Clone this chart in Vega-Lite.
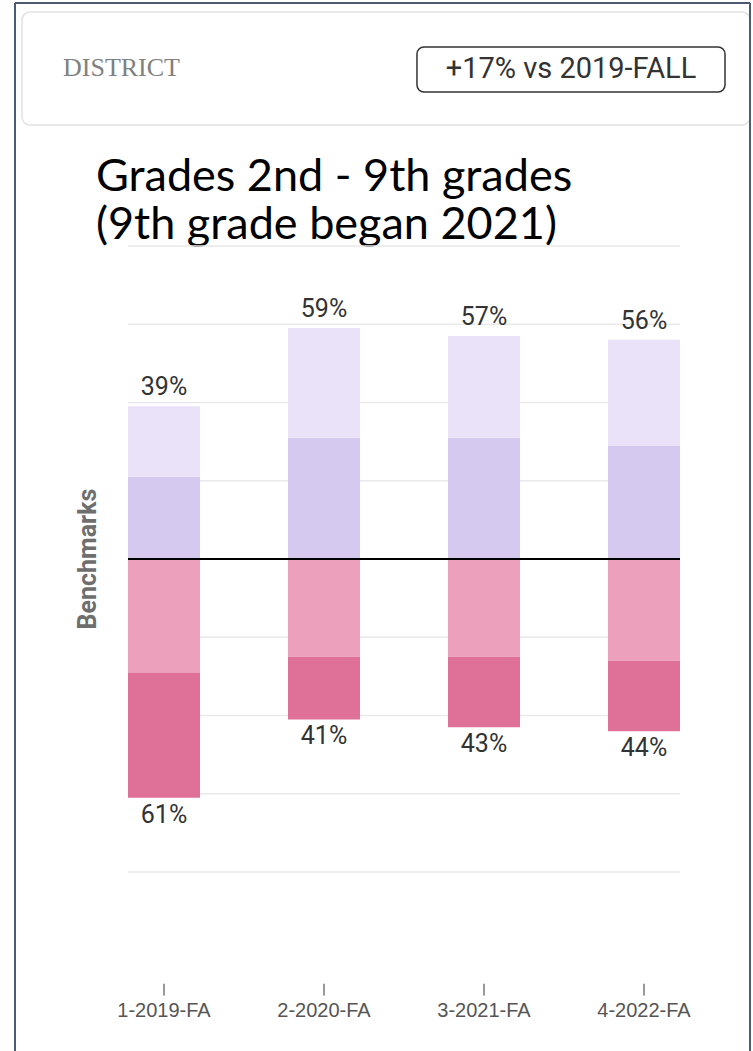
{
  "$schema": "https://vega.github.io/schema/vega-lite/v6.json",
  "width": 735,
  "height": 1048,
  "autosize": {"type": "none"},
  "padding": {"left": 15, "top": 3, "right": 3, "bottom": 0},
  "background": "white",
  "config": {
    "view": {"stroke": null},
    "axis": {"disable": true},
    "legend": {"disable": true}
  },
  "datasets": {
    "bars": [
      {"period": "1-2019-FA", "level": "Meets", "tier": 1, "value": 0.21},
      {"period": "1-2019-FA", "level": "Exceeds", "tier": 2, "value": 0.18},
      {"period": "1-2019-FA", "level": "Approaching", "tier": 1, "value": -0.29},
      {"period": "1-2019-FA", "level": "Below", "tier": 2, "value": -0.32},
      {"period": "2-2020-FA", "level": "Meets", "tier": 1, "value": 0.31},
      {"period": "2-2020-FA", "level": "Exceeds", "tier": 2, "value": 0.28},
      {"period": "2-2020-FA", "level": "Approaching", "tier": 1, "value": -0.25},
      {"period": "2-2020-FA", "level": "Below", "tier": 2, "value": -0.16},
      {"period": "3-2021-FA", "level": "Meets", "tier": 1, "value": 0.31},
      {"period": "3-2021-FA", "level": "Exceeds", "tier": 2, "value": 0.26},
      {"period": "3-2021-FA", "level": "Approaching", "tier": 1, "value": -0.25},
      {"period": "3-2021-FA", "level": "Below", "tier": 2, "value": -0.18},
      {"period": "4-2022-FA", "level": "Meets", "tier": 1, "value": 0.29},
      {"period": "4-2022-FA", "level": "Exceeds", "tier": 2, "value": 0.27},
      {"period": "4-2022-FA", "level": "Approaching", "tier": 1, "value": -0.26},
      {"period": "4-2022-FA", "level": "Below", "tier": 2, "value": -0.18}
    ],
    "totals": [
      {"period": "1-2019-FA", "total": 0.39, "label": "39%"},
      {"period": "1-2019-FA", "total": -0.61, "label": "61%"},
      {"period": "2-2020-FA", "total": 0.59, "label": "59%"},
      {"period": "2-2020-FA", "total": -0.41, "label": "41%"},
      {"period": "3-2021-FA", "total": 0.57, "label": "57%"},
      {"period": "3-2021-FA", "total": -0.43, "label": "43%"},
      {"period": "4-2022-FA", "total": 0.56, "label": "56%"},
      {"period": "4-2022-FA", "total": -0.44, "label": "44%"}
    ],
    "grid": [
      {"v": -0.8}, {"v": -0.6}, {"v": -0.4}, {"v": -0.2},
      {"v": 0.2}, {"v": 0.4}, {"v": 0.6}, {"v": 0.8}
    ],
    "header": [
      {"district": "DISTRICT", "change": "+17% vs 2019-FALL", "title": "Grades 2nd - 9th grades\n(9th grade began 2021)", "axisTitle": "Benchmarks"}
    ]
  },
  "layer": [
    {
      "data": {"name": "header"},
      "layer": [
        {
          "mark": {"type": "rect", "fill": "white", "stroke": "#e2e2e2", "strokeWidth": 1.5, "cornerRadius": 8},
          "encoding": {
            "x": {"datum": 0.95, "type": "quantitative", "scale": {"domain": [0, 100], "nice": false, "zero": false}},
            "x2": {"datum": 100},
            "y": {"datum": 1.3975, "type": "quantitative", "scale": {"domain": [-1.25703, 1.42054], "nice": false, "zero": false}},
            "y2": {"datum": 1.1088}
          }
        },
        {
          "mark": {"type": "text", "align": "left", "baseline": "middle", "font": "Liberation Serif", "fontSize": 26, "color": "#808080"},
          "encoding": {
            "x": {"datum": 6.53, "type": "quantitative"},
            "y": {"datum": 1.2545, "type": "quantitative"},
            "text": {"field": "district"}
          }
        },
        {
          "mark": {"type": "rect", "fill": "white", "stroke": "#333333", "strokeWidth": 1.5, "cornerRadius": 7},
          "encoding": {
            "x": {"datum": 54.69, "type": "quantitative"},
            "x2": {"datum": 96.6},
            "y": {"datum": 1.3081, "type": "quantitative"},
            "y2": {"datum": 1.1931}
          }
        },
        {
          "mark": {"type": "text", "align": "center", "baseline": "middle", "font": "Roboto", "fontSize": 29, "color": "#333333"},
          "encoding": {
            "x": {"datum": 75.65, "type": "quantitative"},
            "y": {"datum": 1.2519, "type": "quantitative"},
            "text": {"field": "change"}
          }
        },
        {
          "mark": {"type": "text", "align": "left", "baseline": "alphabetic", "font": "Lato", "fontSize": 45, "color": "#000000", "lineBreak": "\n", "lineHeight": 48},
          "encoding": {
            "x": {"datum": 11.02, "type": "quantitative"},
            "y": {"datum": 0.9402, "type": "quantitative"},
            "text": {"field": "title"}
          }
        },
        {
          "mark": {"type": "text", "align": "center", "baseline": "middle", "angle": 270, "font": "Roboto", "fontWeight": "bold", "fontSize": 25, "color": "#6e6e6e"},
          "encoding": {
            "x": {"datum": 9.93, "type": "quantitative"},
            "y": {"datum": 0.0, "type": "quantitative"},
            "text": {"field": "axisTitle"}
          }
        },
        {
          "data": {"name": "grid"},
          "mark": {"type": "rule", "color": "#e9e9e9", "strokeWidth": 1.5},
          "encoding": {
            "x": {"datum": 15.37, "type": "quantitative"},
            "x2": {"datum": 90.48},
            "y": {"field": "v", "type": "quantitative"}
          }
        }
      ]
    },
    {
      "layer": [
        {
          "data": {"name": "bars"},
          "mark": {"type": "bar"},
          "encoding": {
            "x": {"field": "period", "type": "nominal", "scale": {"type": "band", "paddingInner": 0.55, "paddingOuter": 0.571875, "align": 0.6175}},
            "y": {"field": "value", "type": "quantitative", "stack": "zero", "scale": {"domain": [-1.25703, 1.42054], "nice": false, "zero": false}},
            "color": {"field": "level", "type": "nominal", "scale": {"domain": ["Exceeds", "Meets", "Approaching", "Below"], "range": ["#e9e2f8", "#d6c9ef", "#eda0bc", "#df7199"]}},
            "order": {"field": "tier", "type": "quantitative", "sort": "ascending"}
          }
        },
        {
          "data": {"name": "totals"},
          "transform": [{"filter": "datum.total > 0"}],
          "mark": {"type": "text", "align": "center", "baseline": "bottom", "dy": -6, "font": "Roboto", "fontSize": 25, "color": "#333333"},
          "encoding": {
            "x": {"field": "period", "type": "nominal"},
            "y": {"field": "total", "type": "quantitative"},
            "text": {"field": "label"}
          }
        },
        {
          "data": {"name": "totals"},
          "transform": [{"filter": "datum.total < 0"}],
          "mark": {"type": "text", "align": "center", "baseline": "top", "dy": 5, "font": "Roboto", "fontSize": 25, "color": "#333333"},
          "encoding": {
            "x": {"field": "period", "type": "nominal"},
            "y": {"field": "total", "type": "quantitative"},
            "text": {"field": "label"}
          }
        },
        {
          "data": {"name": "totals"},
          "transform": [{"filter": "datum.total > 0"}],
          "mark": {"type": "rule", "color": "#555555", "strokeWidth": 1.2},
          "encoding": {
            "x": {"field": "period", "type": "nominal"},
            "y": {"datum": -1.085, "type": "quantitative"},
            "y2": {"datum": -1.115}
          }
        },
        {
          "data": {"name": "totals"},
          "transform": [{"filter": "datum.total > 0"}],
          "mark": {"type": "text", "align": "center", "baseline": "middle", "font": "Liberation Sans", "fontSize": 20, "color": "#555555"},
          "encoding": {
            "x": {"field": "period", "type": "nominal"},
            "y": {"datum": -1.155, "type": "quantitative"},
            "text": {"field": "period"}
          }
        }
      ]
    },
    {
      "data": {"name": "header"},
      "layer": [
        {
          "mark": {"type": "rule", "color": "#000000", "strokeWidth": 2},
          "encoding": {
            "x": {"datum": 15.37, "type": "quantitative", "scale": {"domain": [0, 100], "nice": false, "zero": false}},
            "x2": {"datum": 90.48},
            "y": {"datum": 0, "type": "quantitative"}
          }
        },
        {
          "mark": {"type": "rule", "color": "#4d5a74", "strokeWidth": 2},
          "encoding": {
            "x": {"datum": 0, "type": "quantitative"},
            "y": {"datum": 1.42054, "type": "quantitative"},
            "y2": {"datum": -1.25703}
          }
        },
        {
          "mark": {"type": "rule", "color": "#4d5a74", "strokeWidth": 2},
          "encoding": {
            "x": {"datum": 100, "type": "quantitative"},
            "y": {"datum": 1.42054, "type": "quantitative"},
            "y2": {"datum": -1.25703}
          }
        },
        {
          "mark": {"type": "rule", "color": "#4d5a74", "strokeWidth": 2},
          "encoding": {
            "x": {"datum": 0, "type": "quantitative"},
            "x2": {"datum": 100},
            "y": {"datum": 1.42054, "type": "quantitative"}
          }
        }
      ]
    }
  ],
  "resolve": {"scale": {"x": "independent"}}
}
